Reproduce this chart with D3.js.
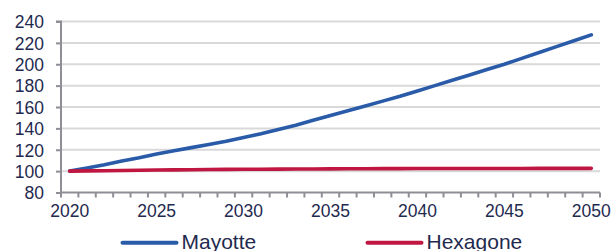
<!DOCTYPE html>
<html>
<head>
<meta charset="utf-8">
<script src="https://cdn.jsdelivr.net/npm/d3@7"></script>
<style>
  body { margin: 0; background: #fff; }
  svg { display: block; font-family: "Liberation Sans", Arial, sans-serif; }
  .axis text { fill: #1f2a4f; font-size: 17.5px; }
  .axis path, .axis line { stroke: #8e8e96; stroke-width: 2; }
</style>
</head>
<body>
<svg id="chart" width="612" height="251"></svg>
<script>
// data (index, 2020 = 100)
const years = d3.range(2020, 2051);
const mayotte = [100, 103, 106, 109.5, 112.5, 116, 119, 122, 125, 128, 131.5,
  135, 139, 143, 147.5, 152, 156.5, 161, 165.5, 170, 175,
  180, 185, 190, 195, 200, 205.5, 211, 216.5, 222, 227.5];
const hexagone = [100, 100.2, 100.4, 100.6, 100.8, 101, 101.2, 101.35, 101.5, 101.6, 101.7,
  101.8, 101.9, 102, 102.05, 102.1, 102.2, 102.25, 102.3, 102.35, 102.4,
  102.4, 102.45, 102.45, 102.5, 102.5, 102.5, 102.55, 102.55, 102.6, 102.6];
const xLabels = [2020, 2025, 2030, 2035, 2040, 2045, 2050];
const yTicks = [80, 100, 120, 140, 160, 180, 200, 220, 240];
const seriesNames = ["Mayotte", "Hexagone"];
const seriesColors = ["#2a5ba8", "#bf1741"];

const svg = d3.select("svg#chart");
const margins = { top: 21.5, bottom: 58.5, left: 61, right: 12 };
const width = +svg.attr("width");
const height = +svg.attr("height");
const plotBottom = height - margins.bottom;
const plotRight = width - margins.right;

const x = d3.scaleBand().domain(years).range([margins.left, plotRight]).padding(0);
const y = d3.scaleLinear().domain([80, 240]).range([plotBottom, margins.top]);

// gridlines
svg.append("g")
  .selectAll("line")
  .data(yTicks.filter(d => d > 80))
  .join("line")
  .attr("x1", margins.left)
  .attr("x2", plotRight)
  .attr("y1", d => y(d))
  .attr("y2", d => y(d))
  .attr("stroke", "#d9d9d9")
  .attr("stroke-width", 2);

// y axis
const yAxis = d3.axisLeft(y).tickValues(yTicks).tickSize(5).tickPadding(12);
svg.append("g")
  .attr("class", "axis")
  .attr("transform", `translate(${margins.left},0)`)
  .call(yAxis)
  .call(g => g.select(".domain").attr("d", `M-5,${margins.top}H0V${plotBottom}`))
  .selectAll("text").attr("dy", "0.36em");

// x axis: labels centred on bands, ticks on band edges
const xAxis = d3.axisBottom(x).tickValues(xLabels).tickSize(0).tickPadding(12);
const xg = svg.append("g")
  .attr("class", "axis")
  .attr("transform", `translate(0,${plotBottom})`)
  .call(xAxis);
xg.select(".domain").attr("d", `M${margins.left},0H${plotRight}`);
xg.append("g")
  .selectAll("line")
  .data(d3.range(years.length + 1))
  .join("line")
  .attr("x1", i => margins.left + i * x.step())
  .attr("x2", i => margins.left + i * x.step())
  .attr("y1", 0)
  .attr("y2", 5)
  .attr("stroke", "#8e8e96")
  .attr("stroke-width", 2);

// lines
const line = d3.line()
  .x((d, i) => x(years[i]) + x.bandwidth() / 2)
  .y(d => y(d));

[mayotte, hexagone].forEach((vals, k) => {
  svg.append("path")
    .datum(vals)
    .attr("fill", "none")
    .attr("stroke", seriesColors[k])
    .attr("stroke-width", 3.6)
    .attr("stroke-linecap", "round")
    .attr("stroke-linejoin", "round")
    .attr("d", line);
});

// legend (cut at the bottom edge, as in the original)
const legendX = [122.5, 367.5];
const legend = svg.append("g");
seriesNames.forEach((name, k) => {
  legend.append("line")
    .attr("x1", legendX[k])
    .attr("x2", legendX[k] + 54)
    .attr("y1", 242.7)
    .attr("y2", 242.7)
    .attr("stroke", seriesColors[k])
    .attr("stroke-width", 4)
    .attr("stroke-linecap", "round");
  legend.append("text")
    .attr("x", legendX[k] + 59)
    .attr("y", 249)
    .attr("fill", "#1f2a4f")
    .attr("font-size", "21px")
    .text(name);
});
</script>
</body>
</html>
